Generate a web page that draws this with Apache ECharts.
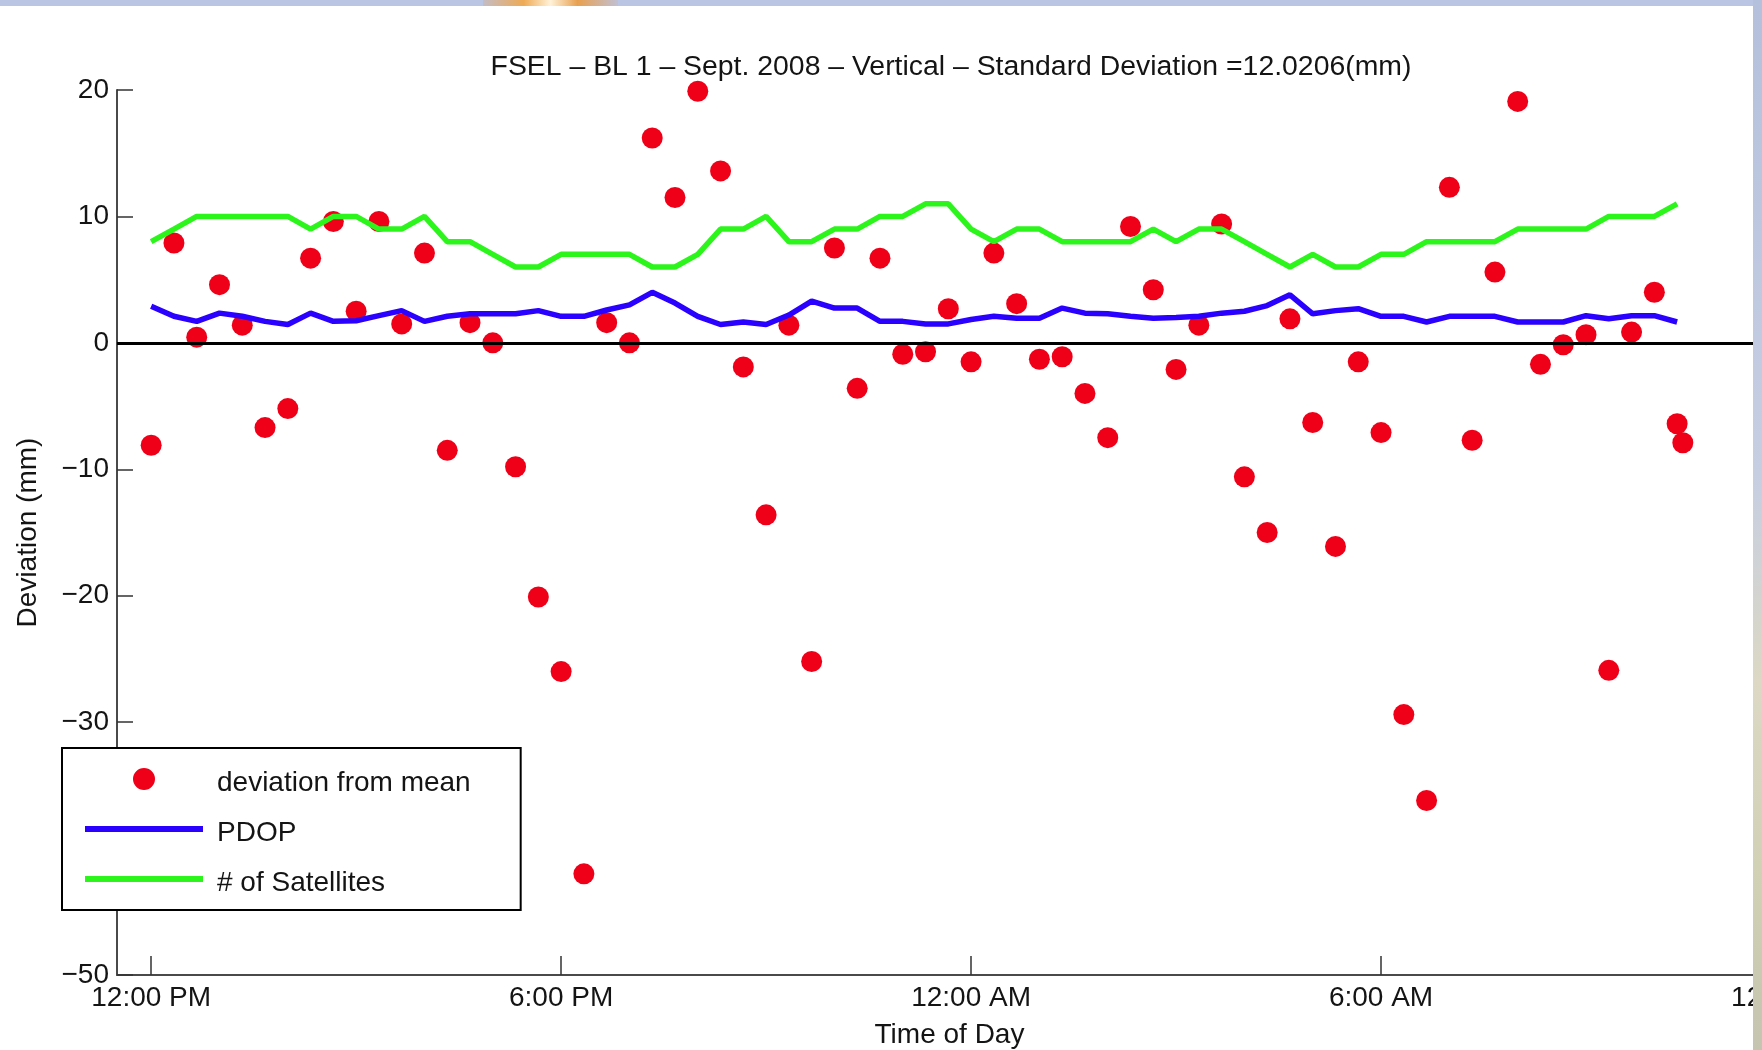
<!DOCTYPE html>
<html>
<head>
<meta charset="utf-8">
<title>FSEL - BL 1 - Sept. 2008 - Vertical</title>
<script src="https://cdn.jsdelivr.net/npm/echarts@6/dist/echarts.min.js"></script>
<style>
  html, body { margin: 0; padding: 0; background: #ffffff; }
  #deviationChart { width: 1762px; height: 1050px; }
</style>
</head>
<body>
<div id="deviationChart"></div>
<script>
// time of each epoch, minutes after 12:00 PM
const lineTimes = [0, 20, 40, 60, 80, 100, 120, 140, 160, 180, 200, 220, 240, 260, 280, 300, 320, 340,
  360, 380, 400, 420, 440, 460, 480, 500, 520, 540, 560, 580, 600, 620, 640, 660, 680, 700,
  720, 740, 760, 780, 800, 820, 840, 860, 880, 900, 920, 940, 960, 980, 1000, 1020, 1040, 1060,
  1080, 1100, 1120, 1140, 1160, 1180, 1200, 1220, 1240, 1260, 1280, 1300, 1320, 1340];

const devTimes = [0, 20, 40, 60, 80, 100, 120, 140, 160, 180, 200, 220, 240, 260, 280, 300, 320, 340,
  360, 380, 400, 420, 440, 460, 480, 500, 520, 540, 560, 580, 600, 620, 640, 660, 680, 700,
  720, 740, 760, 780, 800, 820, 840, 860, 880, 900, 920, 940, 960, 980, 1000, 1020, 1040, 1060,
  1080, 1100, 1120, 1140, 1160, 1180, 1200, 1220, 1240, 1260, 1280, 1300, 1320, 1340, 1345];

// deviation from mean (mm)
const deviation = [-8.1, 7.9, 0.45, 4.6, 1.4, -6.7, -5.2, 6.7, 9.6, 2.5,
  9.6, 1.5, 7.1, -8.5, 1.6, 0, -9.8, -20.1, -26.0, -42.0,
  1.6, 0, 16.2, 11.5, 19.9, 13.6, -1.9, -13.6, 1.4, -25.2,
  7.5, -3.6, 6.7, -0.9, -0.7, 2.7, -1.5, 7.1, 3.1, -1.3,
  -1.1, -4.0, -7.5, 9.2, 4.2, -2.1, 1.4, 9.4, -10.6, -15.0,
  1.9, -6.3, -16.1, -1.5, -7.1, -29.4, -36.2, 12.3, -7.7, 5.6,
  19.1, -1.7, -0.15, 0.65, -25.9, 0.85, 4.0, -6.4, -7.9];

const pdop = [2.9, 2.1, 1.7, 2.35, 2.1, 1.7, 1.45, 2.35, 1.7, 1.75,
  2.15, 2.55, 1.7, 2.1, 2.3, 2.3, 2.3, 2.55, 2.1, 2.1,
  2.6, 3.0, 4.0, 3.15, 2.1, 1.45, 1.65, 1.45, 2.2, 3.3,
  2.75, 2.75, 1.7, 1.7, 1.5, 1.5, 1.85, 2.1, 1.95, 1.95,
  2.75, 2.35, 2.3, 2.1, 1.95, 2.0, 2.1, 2.35, 2.5, 2.95,
  3.8, 2.3, 2.55, 2.7, 2.1, 2.1, 1.65, 2.1, 2.1, 2.1,
  1.65, 1.65, 1.65, 2.15, 1.9, 2.15, 2.15, 1.65];

const satellites = [8, 9, 10, 10, 10, 10, 10, 9, 10, 10,
  9, 9, 10, 8, 8, 7, 6, 6, 7, 7,
  7, 7, 6, 6, 7, 9, 9, 10, 8, 8,
  9, 9, 10, 10, 11, 11, 9, 8, 9, 9,
  8, 8, 8, 8, 9, 8, 9, 9, 8, 7,
  6, 7, 6, 6, 7, 7, 8, 8, 8, 8,
  9, 9, 9, 9, 10, 10, 10, 11];

const tickTimes = [0, 360, 720, 1080, 1440];
const tickLabels = ["12:00 PM", "6:00 PM", "12:00 AM", "6:00 AM", "12:00 PM"];

const FONT = "'Liberation Sans', Arial, Helvetica, sans-serif";
const TEXT = "#141414";
const RED = "#f00018";
const BLUE = "#2a00ff";
const GREEN = "#2cf51c";

// legend icons drawn in a 118x30 box, mark sitting a little above the text centre
// (the two zero-length segments only pin the box corners)
const DOT_ICON = "path://M48 11A11 11 0 1 1 70 11A11 11 0 1 1 48 11Z M0 0L0 0.01 M118 30L118 29.99";
const LINE_ICON = "path://M0 8H118V14H0Z M0 0L0 0.01 M118 30L118 29.99";

let myChart = echarts.init(document.getElementById("deviationChart"));

let option = {
  backgroundColor: "#ffffff",
  animation: false,
  title: {
    text: "FSEL \u2013 BL 1 \u2013 Sept. 2008 \u2013 Vertical \u2013 Standard Deviation =12.0206(mm)",
    left: 951,
    top: 53,
    padding: 0,
    textAlign: "center",
    textStyle: { fontFamily: FONT, fontSize: 28.4, fontWeight: "normal", color: TEXT }
  },
  legend: {
    orient: "vertical",
    left: 62,
    top: 748,
    padding: [20, 50, 12, 23],
    itemWidth: 118,
    itemHeight: 30,
    itemGap: 20,
    backgroundColor: "#ffffff",
    borderColor: "#000000",
    borderWidth: 2,
    borderRadius: 0,
    textStyle: { fontFamily: FONT, fontSize: 28, color: TEXT, padding: [0, 0, 0, 9] },
    data: [
      { name: "deviation from mean", icon: DOT_ICON },
      { name: "PDOP", icon: LINE_ICON },
      { name: "# of Satellites", icon: LINE_ICON }
    ]
  },
  grid: {
    left: 117,
    top: 90,
    bottom: 75,
    right: -29,
    outerBoundsMode: "none"
  },
  xAxis: {
    type: "value",
    min: -30,
    max: 1440,
    name: "Time of Day",
    nameLocation: "middle",
    nameGap: 46,
    nameTextStyle: { fontFamily: FONT, fontSize: 28, color: TEXT, padding: [0, 9, 0, 0] },
    axisLine: { onZero: false, lineStyle: { color: "#4a4a4a", width: 2 } },
    axisTick: { inside: true, length: 19, customValues: tickTimes, lineStyle: { color: "#333333", width: 1.5 } },
    axisLabel: {
      customValues: tickTimes,
      margin: 9,
      fontFamily: FONT,
      fontSize: 28,
      color: TEXT,
      formatter: function (val) {
        return tickLabels[tickTimes.indexOf(val)];
      }
    },
    splitLine: { show: false }
  },
  yAxis: {
    type: "value",
    min: -50,
    max: 20,
    interval: 10,
    name: "Deviation (mm)",
    nameLocation: "middle",
    nameGap: 75,
    nameTextStyle: { fontFamily: FONT, fontSize: 28, color: TEXT },
    axisLine: { show: true, onZero: false, lineStyle: { color: "#4a4a4a", width: 2 } },
    axisTick: { show: true, inside: true, length: 16, lineStyle: { color: "#333333", width: 1.5 } },
    axisLabel: {
      margin: 8,
      fontFamily: FONT,
      fontSize: 28,
      color: TEXT,
      formatter: function (val) {
        return val < 0 ? "\u2212" + (-val) : String(val);
      }
    },
    splitLine: { show: false }
  },
  series: [
    {
      name: "deviation from mean",
      type: "scatter",
      z: 2,
      symbol: "circle",
      symbolSize: 21,
      itemStyle: { color: RED, opacity: 1 },
      data: devTimes.map((t, i) => [t, deviation[i]])
    },
    {
      name: "PDOP",
      type: "line",
      z: 3,
      symbol: "none",
      lineStyle: { color: BLUE, width: 5.5 },
      itemStyle: { color: BLUE },
      data: lineTimes.map((t, i) => [t, pdop[i]])
    },
    {
      name: "# of Satellites",
      type: "line",
      z: 3,
      symbol: "none",
      lineStyle: { color: GREEN, width: 5.5 },
      itemStyle: { color: GREEN },
      data: lineTimes.map((t, i) => [t, satellites[i]]),
      // zero reference line
      markLine: {
        silent: true,
        symbol: "none",
        label: { show: false },
        lineStyle: { color: "#000000", width: 3, type: "solid" },
        data: [{ yAxis: 0 }]
      }
    }
  ],
  // slide background showing at the edges of the screenshot
  graphic: [
    {
      type: "rect",
      z: 100,
      shape: { x: 0, y: 0, width: 1762, height: 6 },
      style: { fill: "#b9c5e2" }
    },
    {
      type: "rect",
      z: 101,
      shape: { x: 483, y: 0, width: 135, height: 6 },
      style: {
        fill: new echarts.graphic.LinearGradient(0, 0, 1, 0, [
          { offset: 0, color: "#c4bcc4" },
          { offset: 0.3, color: "#eeaa55" },
          { offset: 0.5, color: "#fff2d8" },
          { offset: 0.7, color: "#e8a050" },
          { offset: 1, color: "#c0c0d4" }
        ])
      }
    },
    {
      type: "rect",
      z: 100,
      shape: { x: 1753, y: 0, width: 9, height: 1050 },
      style: {
        fill: new echarts.graphic.LinearGradient(0, 0, 0, 1, [
          { offset: 0, color: "#b4c0dc" },
          { offset: 0.45, color: "#c6cee2" },
          { offset: 0.65, color: "#dcd8c4" },
          { offset: 0.85, color: "#d0d0b4" },
          { offset: 1, color: "#c4c4b0" }
        ])
      }
    }
  ]
};

myChart.setOption(option);
</script>
</body>
</html>
